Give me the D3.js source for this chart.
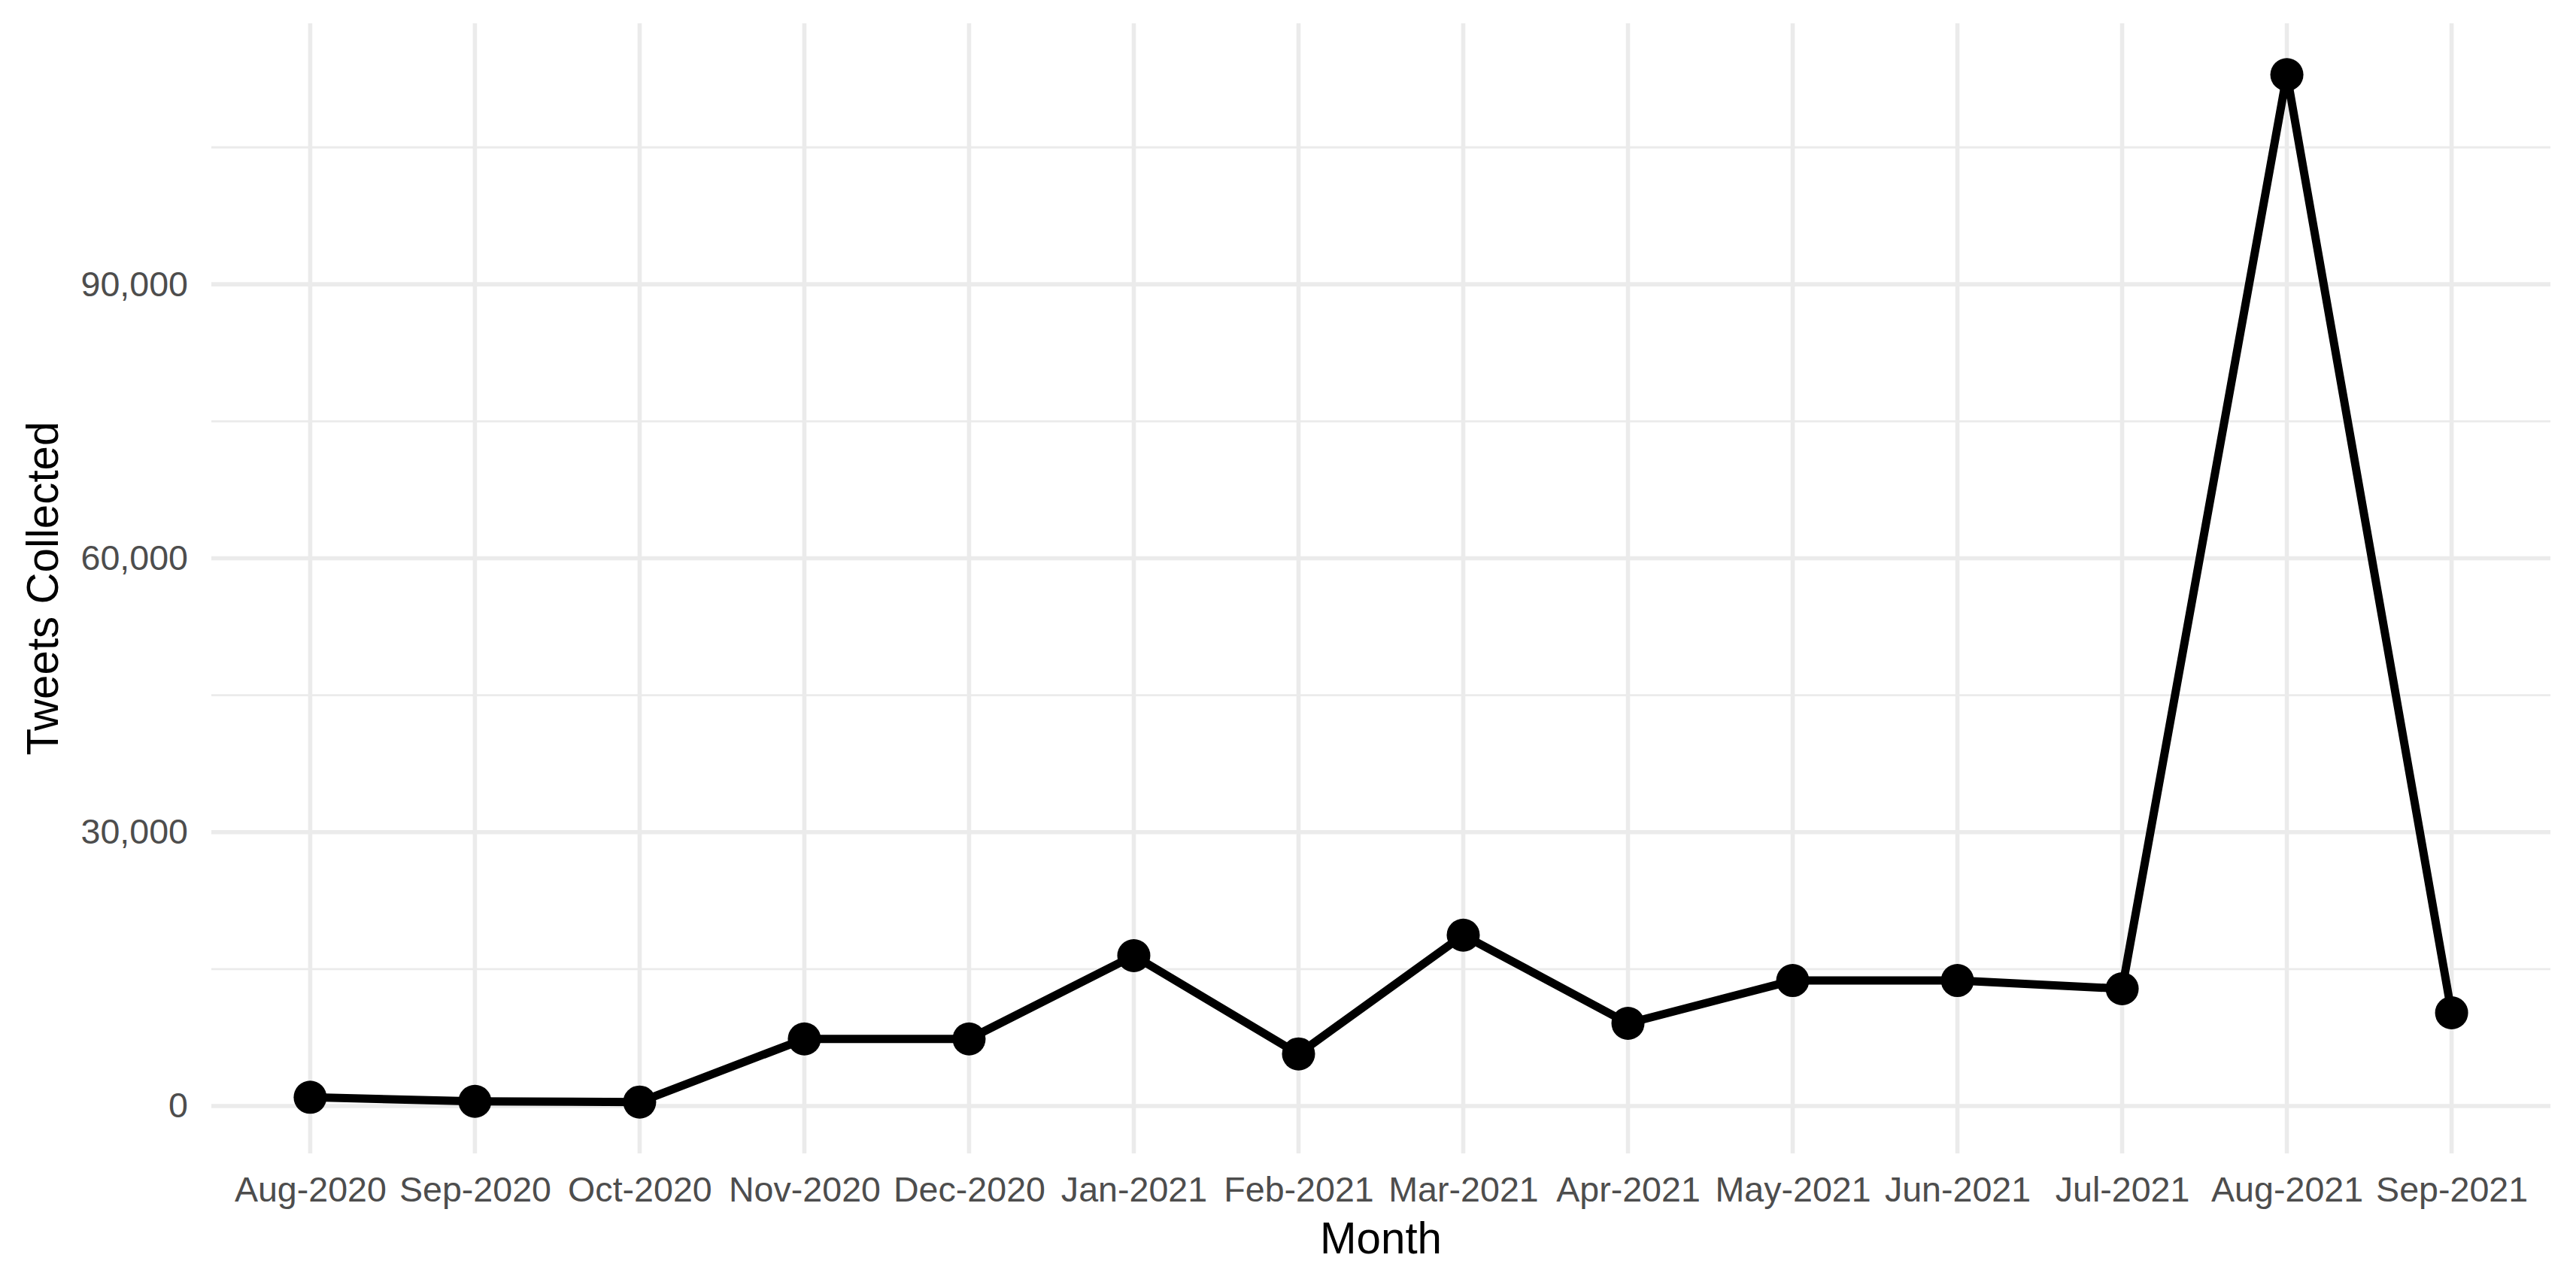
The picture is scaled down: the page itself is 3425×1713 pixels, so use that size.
<!DOCTYPE html>
<html>
<head>
<meta charset="utf-8">
<script src="https://cdn.jsdelivr.net/npm/d3@7"></script>
<style>
  html, body { margin: 0; padding: 0; background: #fff; }
  svg { display: block; }
  text { font-family: "Liberation Sans", Arial, Helvetica, sans-serif; }
</style>
</head>
<body>
<svg id="chart" width="3425" height="1713"></svg>
<script>
const months = ["Aug-2020","Sep-2020","Oct-2020","Nov-2020","Dec-2020","Jan-2021","Feb-2021",
                "Mar-2021","Apr-2021","May-2021","Jun-2021","Jul-2021","Aug-2021","Sep-2021"];
const tweets = [960, 520, 440, 7350, 7350, 16470, 5710, 18720, 9060, 13750, 13750, 12850, 112960, 10210];
const yMajorTicks = [0, 30000, 60000, 90000];
const yMinorTicks = [15000, 45000, 75000, 105000];
const xTitle = "Month";
const yTitle = "Tweets Collected";

const W = 3425, H = 1713;
const panel = { left: 281, right: 3391, top: 31, bottom: 1534 };
const svg = d3.select("#chart");

const x = d3.scalePoint().domain(months).range([panel.left, panel.right]).padding(0.6);
const [mn, mx] = d3.extent(tweets);
const pad = (mx - mn) * 0.05;
const y = d3.scaleLinear().domain([mn - pad, mx + pad]).range([panel.bottom, panel.top]);

const grid = svg.append("g");
grid.selectAll("line.minor").data(yMinorTicks).join("line")
  .attr("x1", panel.left).attr("x2", panel.right)
  .attr("y1", d => y(d)).attr("y2", d => y(d))
  .attr("stroke", "#EBEBEB").attr("stroke-width", 2.8);
grid.selectAll("line.major").data(yMajorTicks).join("line")
  .attr("x1", panel.left).attr("x2", panel.right)
  .attr("y1", d => y(d)).attr("y2", d => y(d))
  .attr("stroke", "#EBEBEB").attr("stroke-width", 5.6);
grid.selectAll("line.vmajor").data(months).join("line")
  .attr("x1", d => x(d)).attr("x2", d => x(d))
  .attr("y1", panel.top).attr("y2", panel.bottom)
  .attr("stroke", "#EBEBEB").attr("stroke-width", 5.6);

// axes
const xAxis = svg.append("g").attr("transform", `translate(0,${panel.bottom})`)
  .call(d3.axisBottom(x).tickSize(0).tickPadding(31));
xAxis.select(".domain").remove();
xAxis.selectAll("text").attr("font-size", 46.6).attr("fill", "#4D4D4D")
  .attr("font-family", "'Liberation Sans', Arial, sans-serif");

const yAxis = svg.append("g").attr("transform", `translate(${panel.left},0)`)
  .call(d3.axisLeft(y).tickValues(yMajorTicks).tickFormat(d3.format(",")).tickSize(0).tickPadding(31));
yAxis.select(".domain").remove();
yAxis.selectAll("text").attr("font-size", 46.6).attr("fill", "#4D4D4D")
  .attr("font-family", "'Liberation Sans', Arial, sans-serif");

// line + points
const line = d3.line().x((d, i) => x(months[i])).y(d => y(d));
svg.append("path").datum(tweets)
  .attr("d", line).attr("fill", "none").attr("stroke", "#000")
  .attr("stroke-width", 11).attr("stroke-linejoin", "round");
svg.append("g").selectAll("circle").data(tweets).join("circle")
  .attr("cx", (d, i) => x(months[i])).attr("cy", d => y(d))
  .attr("r", 22).attr("fill", "#000");

// titles
svg.append("text").attr("x", (panel.left + panel.right) / 2).attr("y", 1667)
  .attr("text-anchor", "middle").attr("font-size", 58.3).attr("fill", "#000").text(xTitle);
svg.append("text")
  .attr("transform", `translate(77,${(panel.top + panel.bottom) / 2}) rotate(-90)`)
  .attr("text-anchor", "middle").attr("font-size", 58.3).attr("fill", "#000").text(yTitle);
</script>
</body>
</html>
